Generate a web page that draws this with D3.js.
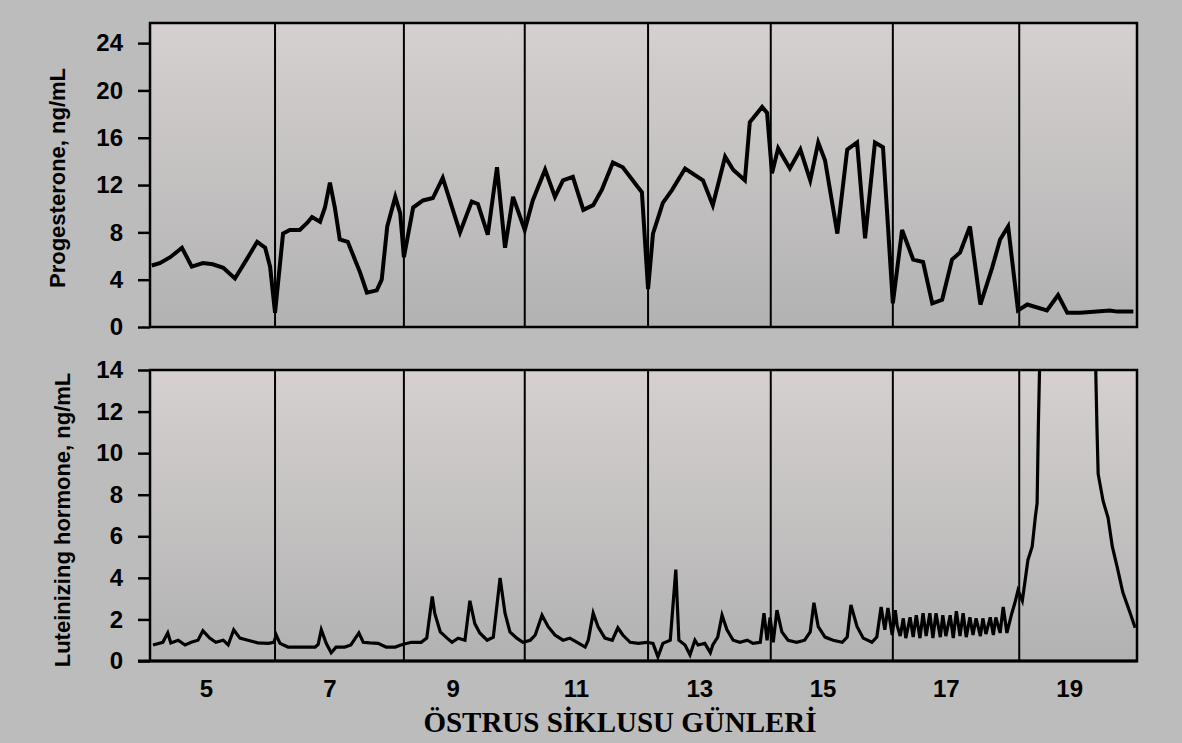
<!DOCTYPE html>
<html>
<head>
<meta charset="utf-8">
<script src="https://cdn.jsdelivr.net/npm/d3@7"></script>
<style>
  body { margin: 0; background: #bcbcbc; }
  svg { display: block; }
</style>
</head>
<body>
<svg id="chart" width="1182" height="743"></svg>
<script>
// day labels and the vertical separators
var dayTicks = [5, 7, 9, 11, 13, 15, 17, 19];
var dividers = [6.12, 8.21, 10.17, 12.17, 14.16, 16.14, 18.19];
var progTicks = [0, 4, 8, 12, 16, 20, 24];
var lhTicks = [0, 2, 4, 6, 8, 10, 12, 14];

// progesterone, ng/mL
var progDays = [4.12,4.25,4.42,4.61,4.77,4.95,5.11,5.28,5.47,5.67,5.83,5.96,6.04,6.12,6.25,6.36,6.52,6.64,6.72,6.85,
  6.93,7.01,7.09,7.17,7.30,7.50,7.61,7.77,7.85,7.94,8.07,8.15,8.21,8.36,8.52,8.68,8.84,9.12,9.31,9.41,
  9.57,9.72,9.85,9.98,10.17,10.30,10.50,10.66,10.79,10.95,11.12,11.28,11.42,11.60,11.76,12.01,12.07,12.17,12.25,12.41,
  12.56,12.77,13.06,13.22,13.42,13.55,13.74,13.82,14.02,14.10,14.18,14.28,14.47,14.64,14.80,14.93,15.04,15.24,15.40,15.56,
  15.69,15.85,15.98,16.14,16.29,16.47,16.63,16.78,16.94,17.10,17.23,17.39,17.56,17.75,17.88,18.01,18.17,18.32,18.64,18.82,
  18.97,19.18,19.66,19.78,20.04];
var progValues = [5.2,5.4,5.9,6.7,5.1,5.4,5.3,5.0,4.1,5.8,7.2,6.7,5.1,1.2,7.9,8.2,8.2,8.8,9.3,8.9,
  10.1,12.2,10.1,7.4,7.2,4.6,2.9,3.1,4.0,8.5,11.0,9.6,5.9,10.1,10.7,10.9,12.6,8.0,10.6,10.4,
  7.8,13.5,6.7,11.0,8.2,10.7,13.3,11.0,12.4,12.7,9.9,10.3,11.6,13.9,13.5,11.8,11.4,3.2,7.9,10.5,
  11.6,13.4,12.4,10.3,14.4,13.3,12.4,17.3,18.6,18.1,13.0,15.1,13.4,15.0,12.4,15.6,14.1,7.9,15.0,15.6,
  7.5,15.6,15.2,2.0,8.2,5.7,5.5,2.0,2.3,5.7,6.3,8.5,1.9,5.0,7.4,8.5,1.4,1.9,1.4,2.7,
  1.2,1.2,1.4,1.3,1.3];

// luteinizing hormone, ng/mL
var lhDays = [4.14,4.30,4.38,4.43,4.55,4.66,4.76,4.87,4.95,5.06,5.16,5.28,5.36,5.45,5.55,5.68,5.84,6.01,6.10,6.14,
  6.20,6.33,6.54,6.77,6.82,6.87,6.95,7.03,7.11,7.25,7.35,7.48,7.55,7.66,7.79,7.92,8.07,8.16,8.33,8.49,
  8.58,8.67,8.71,8.80,8.91,8.99,9.09,9.20,9.28,9.36,9.44,9.56,9.66,9.77,9.85,9.93,10.04,10.14,10.26,10.34,
  10.45,10.55,10.66,10.79,10.90,11.02,11.15,11.20,11.28,11.36,11.47,11.59,11.68,11.76,11.88,12.01,12.15,12.25,12.33,12.41,
  12.53,12.62,12.67,12.77,12.85,12.93,12.98,13.09,13.18,13.22,13.30,13.37,13.45,13.55,13.66,13.78,13.87,13.99,14.05,14.10,
  14.15,14.20,14.26,14.34,14.44,14.58,14.71,14.80,14.86,14.93,15.04,15.17,15.32,15.40,15.46,15.56,15.66,15.80,15.88,15.95,
  16.01,16.06,16.13,16.18,16.21,16.26,16.31,16.35,16.42,16.47,16.52,16.58,16.63,16.68,16.74,16.79,16.84,16.91,16.95,17.00,
  17.07,17.12,17.17,17.23,17.28,17.33,17.39,17.44,17.49,17.56,17.60,17.65,17.72,17.77,17.81,17.88,17.93,17.99,18.07,18.12,
  18.17,18.24,18.28,18.33,18.40,18.45,18.48,18.50,18.53,18.97,19.42,19.45,19.47,19.55,19.63,19.70,19.78,19.87,19.99,20.07];
var lhValues = [0.77,0.9,1.35,0.87,1.0,0.77,0.9,1.0,1.45,1.1,0.9,1.0,0.77,1.5,1.1,1.0,0.87,0.85,0.9,1.25,
  0.85,0.67,0.67,0.67,0.8,1.5,0.85,0.4,0.67,0.67,0.77,1.35,0.9,0.87,0.85,0.67,0.67,0.77,0.9,0.9,
  1.1,3.1,2.3,1.4,1.1,0.9,1.1,1.0,2.9,1.8,1.35,1.0,1.15,4.0,2.3,1.4,1.1,0.9,1.0,1.25,
  2.2,1.65,1.25,1.0,1.1,0.9,0.67,1.0,2.3,1.65,1.1,1.0,1.6,1.25,0.9,0.85,0.9,0.85,0.2,0.85,
  1.0,4.4,1.0,0.77,0.3,1.0,0.77,0.85,0.4,0.77,1.15,2.2,1.5,1.0,0.9,1.0,0.85,0.9,2.3,1.0,
  2.1,0.9,2.45,1.4,1.0,0.9,1.0,1.4,2.8,1.65,1.15,1.0,0.9,1.15,2.7,1.65,1.1,0.9,1.15,2.6,
  1.5,2.55,1.25,2.45,1.7,1.2,2.05,1.1,2.1,1.15,2.2,1.1,2.3,1.2,2.3,1.1,2.3,1.15,2.2,1.2,
  2.2,1.1,2.4,1.2,2.3,1.15,2.1,1.25,2.05,1.2,2.05,1.3,2.1,1.25,2.1,1.35,2.6,1.35,2.3,2.8,
  3.4,2.9,3.75,4.85,5.5,6.9,7.6,11.3,15.5,30,15.5,11.3,9.0,7.7,6.9,5.5,4.5,3.3,2.3,1.6];

var svg = d3.select('#chart');
var left = 150, right = 1137;

var x = d3.scaleLinear().domain([4.092, 20.10]).range([left, right]);
var yProg = d3.scaleLinear().domain([0, 25.7]).range([327, 23]);
var yLH = d3.scaleLinear().domain([0, 14]).range([661, 370]);

var tickFont = '"Liberation Sans", Arial, Helvetica, sans-serif';

// panel background shading
var defs = svg.append('defs');
var grad = defs.append('linearGradient').attr('id', 'shade')
  .attr('x1', 0).attr('y1', 0).attr('x2', 0).attr('y2', 1);
grad.append('stop').attr('offset', '0%').attr('stop-color', '#d6d0d0');
grad.append('stop').attr('offset', '100%').attr('stop-color', '#b2b2b2');

defs.append('clipPath').attr('id', 'clipLH')
  .append('rect')
  .attr('x', left).attr('y', yLH(14))
  .attr('width', right - left).attr('height', yLH(0) - yLH(14));

function panel(y, ticks, days, values, lineWidth, clip) {
  var g = svg.append('g');

  g.append('rect')
    .attr('x', left).attr('y', y.range()[1])
    .attr('width', right - left).attr('height', y.range()[0] - y.range()[1])
    .attr('fill', 'url(#shade)');

  g.selectAll('.divider')
    .data(dividers)
    .enter()
    .append('line')
    .attr('class', 'divider')
    .attr('x1', function (d) { return x(d); })
    .attr('x2', function (d) { return x(d); })
    .attr('y1', y.range()[1])
    .attr('y2', y.range()[0])
    .attr('stroke', '#000')
    .attr('stroke-width', 2);

  var line = d3.line()
    .x(function (d) { return x(d[0]); })
    .y(function (d) { return y(d[1]); });

  g.append('path')
    .datum(d3.zip(days, values))
    .attr('d', line)
    .attr('fill', 'none')
    .attr('stroke', '#000')
    .attr('stroke-width', lineWidth)
    .attr('stroke-linejoin', 'miter')
    .attr('clip-path', clip ? 'url(#' + clip + ')' : null);

  g.append('rect')
    .attr('x', left).attr('y', y.range()[1])
    .attr('width', right - left).attr('height', y.range()[0] - y.range()[1])
    .attr('fill', 'none')
    .attr('stroke', '#000')
    .attr('stroke-width', 2.5);

  var axis = g.append('g')
    .attr('transform', 'translate(' + left + ',0)')
    .call(d3.axisLeft(y).tickValues(ticks).tickSize(12).tickPadding(15));
  axis.select('.domain').remove();
  axis.selectAll('.tick line').attr('stroke', '#000').attr('stroke-width', 2.5);
  axis.selectAll('.tick text')
    .attr('fill', '#000')
    .style('font-family', tickFont)
    .style('font-weight', 'bold')
    .style('font-size', '24px');
  return g;
}

panel(yProg, progTicks, progDays, progValues, 4, null);
panel(yLH, lhTicks, lhDays, lhValues, 3.2, 'clipLH');

// thicker bottom axis line
svg.append('line')
  .attr('x1', left - 12).attr('x2', right + 1)
  .attr('y1', yLH(0)).attr('y2', yLH(0))
  .attr('stroke', '#000').attr('stroke-width', 3);

var xAxis = svg.append('g')
  .attr('transform', 'translate(0,' + yLH(0) + ')')
  .call(d3.axisBottom(x).tickValues(dayTicks).tickSize(0).tickPadding(19));
xAxis.select('.domain').remove();
xAxis.selectAll('.tick text')
  .attr('fill', '#000')
  .style('font-family', tickFont)
  .style('font-weight', 'bold')
  .style('font-size', '24px');

// axis titles
svg.append('text')
  .attr('transform', 'translate(65,178) rotate(-90)')
  .attr('text-anchor', 'middle')
  .style('font-family', tickFont)
  .style('font-weight', 'bold')
  .style('font-size', '22px')
  .text('Progesterone, ng/mL');

svg.append('text')
  .attr('transform', 'translate(70,520) rotate(-90)')
  .attr('text-anchor', 'middle')
  .style('font-family', tickFont)
  .style('font-weight', 'bold')
  .style('font-size', '22px')
  .text('Luteinizing hormone, ng/mL');

svg.append('text')
  .attr('x', 620).attr('y', 732)
  .attr('text-anchor', 'middle')
  .style('font-family', '"Liberation Serif", "Times New Roman", serif')
  .style('font-weight', 'bold')
  .style('font-size', '29px')
  .text('ÖSTRUS SİKLUSU GÜNLERİ');
</script>
</body>
</html>
